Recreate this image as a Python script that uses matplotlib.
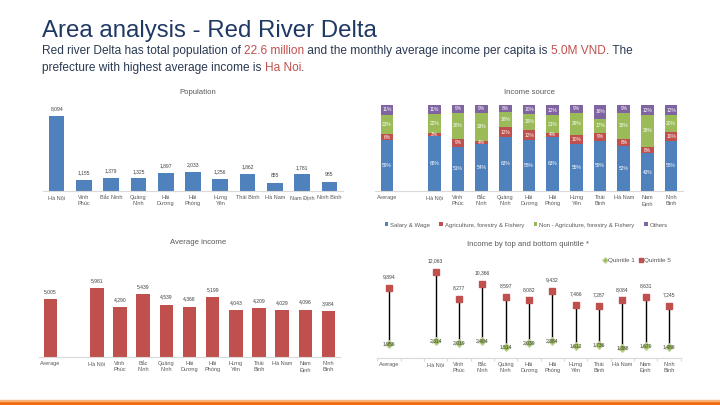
import matplotlib
matplotlib.use('Agg')
import matplotlib.pyplot as plt
import matplotlib.font_manager as fm
from matplotlib.patches import Rectangle
from matplotlib.lines import Line2D
import numpy as np

W, H = 720, 405
names = {f.name for f in fm.fontManager.ttflist}
BASE = 'Liberation Sans' if 'Liberation Sans' in names else 'DejaVu Sans'
NARROW = 'Liberation Sans Narrow' if 'Liberation Sans Narrow' in names else BASE
plt.rcParams['font.family'] = [BASE, 'DejaVu Sans']

# ---------------- data ----------------
pop_labels = ["Hà Nội", "Vĩnh\nPhúc", "Bắc Ninh", "Quảng\nNinh", "Hải\nDương", "Hải\nPhòng",
              "Hưng\nYên", "Thái Bình", "Hà Nam", "Nam Định", "Ninh Bình"]
population = [8094, 1155, 1379, 1325, 1897, 2033, 1256, 1862, 855, 1781, 985]

cat_labels = ["Average", "", "Hà Nội", "Vĩnh\nPhúc", "Bắc\nNinh", "Quảng\nNinh", "Hải\nDương",
              "Hải\nPhòng", "Hưng\nYên", "Thái\nBình", "Hà Nam", "Nam\nĐịnh", "Ninh\nBình"]

src_names = ["Salary & Wage", "Agriculture, forestry & Fishery",
             "Non - Agriculture, forestry & Fishery", "Others"]
avg_source = [59, 6, 23, 11]
salary = [65, 51, 54, 63, 58, 63, 55, 59, 52, 43, 58]
agri = [3, 9, 4, 12, 12, 4, 10, 9, 8, 8, 10]
nonagri = [22, 30, 33, 18, 19, 21, 26, 17, 30, 36, 20]
others = [11, 9, 9, 8, 10, 12, 9, 16, 9, 12, 12]

avg_income_all = 5005
avg_income = [5981, 4290, 5439, 4539, 4368, 5199, 4043, 4209, 4029, 4096, 3984]

q1_avg = 1956
q5_avg = 9894
q1 = [2314, 2019, 2404, 1514, 2039, 2384, 1612, 1736, 1388, 1670, 1488]
q5 = [12063, 8277, 10366, 8597, 8082, 9432, 7466, 7287, 8084, 8631, 7245]

BLUE, RED, GREEN, PURPLE = '#4F81BD', '#C0504D', '#9BBB59', '#8064A2'
TXT = '#404040'
TICK = '#595959'
AXC = '#D9D9D9'

fig = plt.figure(figsize=(7.2, 4.05), dpi=100)


def add_ax(x0, x1, ybot, height):
    ax = fig.add_axes([x0 / W, 1 - ybot / H, (x1 - x0) / W, height / H])
    for s in ['top', 'right', 'left']:
        ax.spines[s].set_visible(False)
    ax.spines['bottom'].set_color(AXC)
    ax.spines['bottom'].set_linewidth(0.8)
    ax.set_yticks([])
    ax.tick_params(axis='x', length=0, pad=3.2, labelsize=4.0, labelcolor=TICK)
    ax.patch.set_alpha(0)
    return ax


def fmt(v):
    return f"{v:,}"

# ---------------- Population ----------------
ax1 = add_ax(43, 343, 190.7, 92.3)
xp = np.arange(len(population))
ax1.bar(xp, population, width=0.575, color=BLUE)
ax1.set_xlim(-0.5, len(population) - 0.5)
ax1.set_ylim(0, 10000)
ax1.set_xticks(xp)
ax1.set_xticklabels(pop_labels)
for x, v in zip(xp, population):
    ax1.annotate(fmt(v), (x, v), xytext=(0, 3.2), textcoords='offset points',
                 ha='center', va='bottom', fontsize=3.6, color=TXT)
fig.text(198 / W, 1 - 92 / H, "Population", ha='center', va='center', fontsize=5.6, color=TICK)

# ---------------- Income source ----------------
ax2 = add_ax(375, 683, 190.7, 85.7)
pos = [0] + list(range(2, 2 + len(salary)))
series = [[avg_source[i]] + s for i, s in enumerate([salary, agri, nonagri, others])]
totals = np.sum(np.array(series, dtype=float), axis=0)
bottom = np.zeros(len(pos))
for vals, col, nm in zip(series, [BLUE, RED, GREEN, PURPLE], src_names):
    hts = np.array(vals, dtype=float) / totals * 100
    ax2.bar(pos, hts, bottom=bottom, width=0.53, color=col, label=nm)
    for x, b, h_, v in zip(pos, bottom, hts, vals):
        ax2.text(x, b + h_ / 2, f"{v}%", ha='center', va='center', fontsize=3.5, color='white')
    bottom += hts
ax2.set_xlim(-0.5, 12.5)
ax2.set_ylim(0, 100)
ax2.set_xticks(range(13))
ax2.set_xticklabels(cat_labels)
fig.text(529 / W, 1 - 92 / H, "Income source", ha='center', va='center', fontsize=5.6, color=TICK)
h2, l2 = ax2.get_legend_handles_labels()
fig.legend(h2, l2, loc='center', bbox_to_anchor=(526 / W, 1 - 225 / H), ncol=4, frameon=False,
           fontsize=4.3, handlelength=0.6, handleheight=0.6, handletextpad=0.3,
           columnspacing=1.6, labelcolor=TICK)

# ---------------- Average income ----------------
ax3 = add_ax(39, 340, 356.7, 80.4)
pos3 = [0] + list(range(2, 2 + len(avg_income)))
vals3 = [avg_income_all] + avg_income
ax3.bar(pos3, vals3, width=0.58, color=RED)
ax3.set_xlim(-0.5, 12.5)
ax3.set_ylim(0, 7000)
ax3.set_xticks(range(13))
ax3.set_xticklabels(cat_labels)
for x, v in zip(pos3, vals3):
    ax3.annotate(fmt(v), (x, v), xytext=(0, 3.6), textcoords='offset points',
                 ha='center', va='bottom', fontsize=3.6, color=TXT)
fig.text(198 / W, 1 - 243 / H, "Average income", ha='center', va='center', fontsize=5.6, color=TICK)

# ---------------- Quintile ----------------
ax4 = add_ax(377.3, 680.7, 357.5, 98.8)
pos4 = [0] + list(range(2, 2 + len(q5)))
v1 = [q1_avg] + q1
v5 = [q5_avg] + q5
ax4.vlines(pos4, v1, v5, color='black', lw=1.0, zorder=2)
ax4.plot(pos4, v1, ls='none', marker='D', ms=3.6, color=GREEN, mec='#C3D69B', mew=0.8, zorder=3,
         label='Quintile 1')
ax4.plot(pos4, v5, ls='none', marker='s', ms=4.4, color=RED, mec=RED, zorder=3, label='Quintile 5')
for x, a, b in zip(pos4, v1, v5):
    ax4.text(x, a, fmt(a), ha='center', va='center', fontsize=3.6, color=TXT, zorder=4)
    ax4.annotate(fmt(b), (x, b), xytext=(0, 8), textcoords='offset points',
                 ha='center', va='center', fontsize=3.6, color=TXT)
ax4.set_xlim(-0.5, 12.5)
ax4.set_ylim(0, 14000)
ax4.set_xticks(range(13))
ax4.set_xticklabels(cat_labels)
ax4.set_xticks(np.arange(-0.5, 13, 1), minor=True)
ax4.tick_params(axis='x', which='minor', length=2.5, color=AXC, width=0.8)
fig.text(528 / W, 1 - 244 / H, "Income by top and bottom quintile *", ha='center', va='center',
         fontsize=5.6, color=TICK)
h4, l4 = ax4.get_legend_handles_labels()
fig.legend(h4, l4, loc='center', bbox_to_anchor=(637 / W, 1 - 260 / H), ncol=2, frameon=False,
           fontsize=4.6, handlelength=0.5, handletextpad=0.2, columnspacing=0.8, labelcolor=TICK,
           markerscale=0.8)

# ---------------- Title & subtitle ----------------
renderer = fig.canvas.get_renderer()
TITLE_C = '#1F3864'
SUB_C = '#2B3A52'
HIL = '#C0504D'


def fit_size(txt, family, target_px, base=10):
    t = fig.text(0, 0, txt, fontsize=base, family=family)
    w = t.get_window_extent(renderer).width
    t.remove()
    return base * target_px / w

ts = fit_size("Area analysis - Red River Delta", NARROW, 335)
fig.text(42 / W, 1 - 37 / H, "Area analysis - Red River Delta", fontsize=ts, family=NARROW,
         color=TITLE_C, va='baseline', ha='left')

line1 = [("Red river Delta has total population of ", SUB_C), ("22.6 million", HIL),
         (" and the monthly average income per capita is ", SUB_C), ("5.0M VND", HIL),
         (". The", SUB_C)]
line2 = [("prefecture with highest average income is ", SUB_C), ("Ha Noi", HIL), (".", SUB_C)]
ss = fit_size("".join(p for p, _ in line1), NARROW, 592)


def draw_line(pieces, x0, ybase):
    x = x0
    for txt, col in pieces:
        t = fig.text(x / W, 1 - ybase / H, txt, fontsize=ss, family=NARROW, color=col,
                     va='baseline', ha='left')
        bb = t.get_window_extent(renderer)
        x += bb.width

draw_line(line1, 42, 54)
draw_line(line2, 42, 71)

# ---------------- bottom orange bar ----------------
fig.patches.append(Rectangle((0, 0), 1, 4 / H, transform=fig.transFigure, color='#F36B10', zorder=5))
fig.patches.append(Rectangle((0, 4 / H), 1, 0.8 / H, transform=fig.transFigure, color='#F9B27A', zorder=5))

fig.savefig('out.png', dpi=100)
